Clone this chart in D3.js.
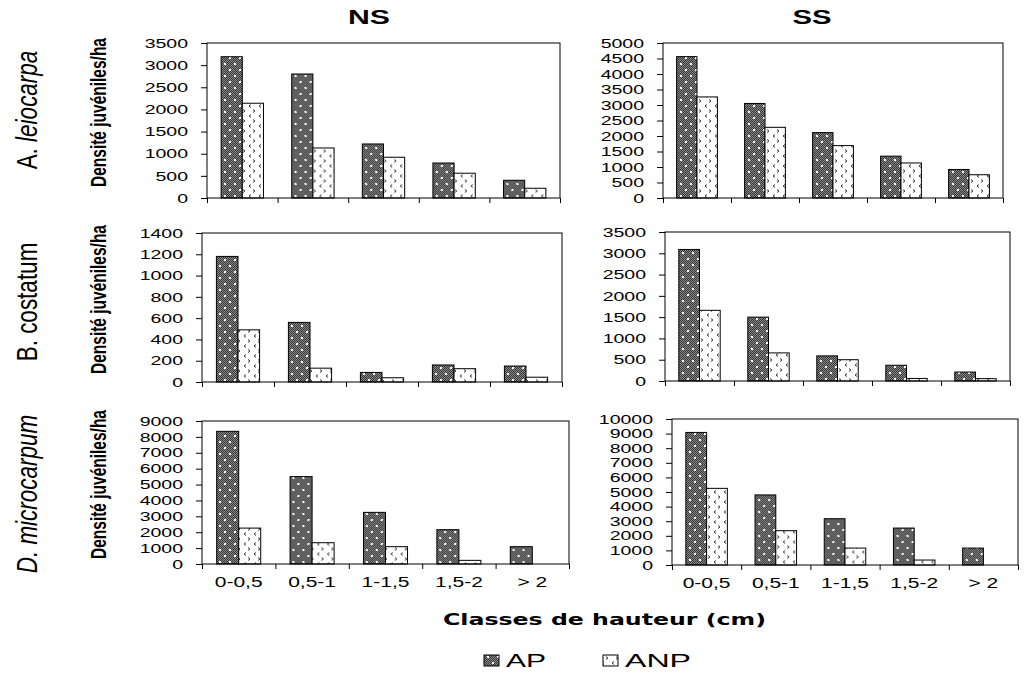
<!DOCTYPE html>
<html>
<head>
<meta charset="utf-8">
<script src="https://cdn.jsdelivr.net/npm/d3@7"></script>
<style>
  body { margin: 0; background: #fff; }
  text { font-family: "Liberation Sans", Arial, sans-serif; fill: #000; }
</style>
</head>
<body>
<div id="chart"></div>
<script>
// classes de hauteur et séries
const categories = ["0-0,5", "0,5-1", "1-1,5", "1,5-2", "> 2"];
const series = ["AP", "ANP"];
const sites = ["NS", "SS"];
const species = ["A. leiocarpa", "B. costatum", "D. microcarpum"];

// densités (juvéniles/ha)
const apLeiocarpaNS  = [3190, 2800, 1220, 790, 400];
const anpLeiocarpaNS = [2140, 1130, 920, 560, 220];
const apLeiocarpaSS  = [4560, 3050, 2110, 1350, 920];
const anpLeiocarpaSS = [3260, 2280, 1690, 1130, 750];

const apCostatumNS  = [1180, 560, 90, 160, 150];
const anpCostatumNS = [490, 130, 40, 125, 45];
const apCostatumSS  = [3090, 1500, 590, 370, 210];
const anpCostatumSS = [1660, 660, 500, 60, 55];

const apMicroNS  = [8350, 5500, 3250, 2160, 1090];
const anpMicroNS = [2260, 1340, 1090, 230, 0];
const apMicroSS  = [9080, 4800, 3170, 2530, 1160];
const anpMicroSS = [5250, 2350, 1160, 340, 0];

// échelles des axes y
const yMaxNS = [3500, 1400, 9000];
const yStepNS = [500, 200, 1000];
const yMaxSS = [5000, 3500, 10000];
const yStepSS = [500, 500, 1000];

const values = [
  [[apLeiocarpaNS, anpLeiocarpaNS], [apLeiocarpaSS, anpLeiocarpaSS]],
  [[apCostatumNS, anpCostatumNS], [apCostatumSS, anpCostatumSS]],
  [[apMicroNS, anpMicroNS], [apMicroSS, anpMicroSS]]
];

// cadres des six graphiques [gauche, haut, droite, bas]
const boxes = [
  [[207, 43, 560, 198], [663, 43, 1003, 198]],
  [[202, 233, 562, 382], [665, 232, 1010, 381]],
  [[202, 421, 569, 564], [672, 419, 1018, 565]]
];

const svg = d3.select("#chart").append("svg")
  .attr("width", 1031)
  .attr("height", 674);

// motifs des barres
const defs = svg.append("defs");
const pAP = defs.append("pattern")
  .attr("id", "patAP").attr("patternUnits", "userSpaceOnUse")
  .attr("width", 10).attr("height", 12);
pAP.append("rect").attr("width", 10).attr("height", 12).attr("fill", "#353535");
for (let i = 0; i < 10; i++) {
  for (let j = 0; j < 12; j++) {
    if ((i + j) % 2 === 0) pAP.append("rect").attr("x", i).attr("y", j)
      .attr("width", 1).attr("height", 1).attr("fill", "#8a8a8a");
  }
}
pAP.append("rect").attr("x", 2).attr("y", 2).attr("width", 2).attr("height", 2).attr("fill", "#fff");
pAP.append("rect").attr("x", 7).attr("y", 8).attr("width", 2).attr("height", 2).attr("fill", "#fff");

const pANP = defs.append("pattern")
  .attr("id", "patANP").attr("patternUnits", "userSpaceOnUse")
  .attr("width", 10).attr("height", 10);
pANP.append("rect").attr("width", 10).attr("height", 10).attr("fill", "#fff");
pANP.append("path").attr("d", "M4,1.5 L2,3 L4,4.5").attr("fill", "none")
  .attr("stroke", "#222").attr("stroke-width", 0.9);
pANP.append("path").attr("d", "M6,6.5 L8,8 L6,9.5").attr("fill", "none")
  .attr("stroke", "#222").attr("stroke-width", 0.9);

const fills = { AP: "url(#patAP)", ANP: "url(#patANP)" };
const sx = 1.5;

species.forEach((sp, r) => {
  sites.forEach((site, c) => {
    const [l, t, rr, b] = boxes[r][c];
    const w = rr - l, h = b - t;
    const max = c === 0 ? yMaxNS[r] : yMaxSS[r];
    const step = c === 0 ? yStepNS[r] : yStepSS[r];

    const g = svg.append("g").attr("transform", "translate(" + l + "," + t + ")");

    const x = d3.scaleBand().domain(categories).range([0, w]).padding(0);
    const x1 = d3.scaleBand().domain(series)
      .range([x.bandwidth() * 0.2, x.bandwidth() * 0.8]).padding(0);
    const y = d3.scaleLinear().domain([0, max]).range([h, 0]);

    // axe y
    const ya = g.append("g")
      .call(d3.axisLeft(y).tickValues(d3.range(0, max + 1, step))
        .tickSize(6).tickFormat(d3.format("d")));
    ya.select(".domain").remove();
    ya.selectAll("line").attr("stroke", "#000");
    ya.selectAll("text")
      .attr("x", -19 / sx)
      .attr("transform", "scale(" + sx + ",1)")
      .style("font-size", "13px");

    // axe x : graduations aux limites des classes
    const xb = d3.scaleLinear().domain([0, categories.length]).range([0, w]);
    const xa = g.append("g").attr("transform", "translate(0," + h + ")")
      .call(d3.axisBottom(xb).ticks(categories.length).tickSize(5).tickFormat(""));
    xa.select(".domain").remove();
    xa.selectAll("line").attr("stroke", "#000");

    // barres
    const rows = categories.map((cat, i) => ({ cat, v: [values[r][c][0][i], values[r][c][1][i]] }));
    const grp = g.selectAll(".cat").data(rows).enter().append("g")
      .attr("transform", d => "translate(" + x(d.cat) + ",0)");
    grp.selectAll("rect")
      .data(d => series.map((s, k) => ({ s, v: d.v[k] })).filter(e => e.v > 0))
      .enter().append("rect")
      .attr("x", d => x1(d.s))
      .attr("y", d => y(d.v))
      .attr("width", x1.bandwidth())
      .attr("height", d => h - y(d.v))
      .attr("fill", d => fills[d.s])
      .attr("stroke", "#000")
      .attr("stroke-width", 1);

    // cadre
    g.append("rect").attr("width", w).attr("height", h)
      .attr("fill", "none").attr("stroke", "#000").attr("stroke-width", 1);

    // étiquettes des classes (dernière ligne)
    if (r === species.length - 1) {
      g.selectAll(".lab").data(categories).enter().append("text")
        .attr("transform", d => "translate(" + (x(d) + x.bandwidth() / 2) + "," + (h + 23) + ") scale(" + sx + ",1)")
        .attr("text-anchor", "middle")
        .style("font-size", "14px")
        .text(d => d);
    }

    // titre de l'axe y (colonne de gauche)
    if (c === 0) {
      svg.append("text")
        .attr("transform", "translate(99," + (t + h / 2 - 8) + ") rotate(-90) scale(1,1.4)")
        .attr("text-anchor", "middle")
        .attr("dominant-baseline", "central")
        .style("font-size", "15.5px")
        .style("font-weight", "bold")
        .text("Densité juvéniles/ha");
    }
  });
});

// titres des colonnes
const titleX = [369, 812];
const titleW = [42, 39];
sites.forEach((s, i) => {
  svg.append("text")
    .attr("x", titleX[i] - titleW[i] / 2).attr("y", 24)
    .attr("textLength", titleW[i]).attr("lengthAdjust", "spacingAndGlyphs")
    .style("font-size", "21px").style("font-weight", "bold")
    .text(s);
});

// noms des espèces
const rowY = [110, 302, 494];
const rowParts = [
  [["A. ", "normal"], ["leiocarpa", "italic"]],
  [["B. costatum", "normal"]],
  [["D. microcarpum", "italic"]]
];
species.forEach((sp, i) => {
  const tx = svg.append("text")
    .attr("transform", "translate(27," + rowY[i] + ") rotate(-90) scale(1,1.3)")
    .attr("text-anchor", "middle")
    .attr("dominant-baseline", "central")
    .style("font-size", "22.5px");
  rowParts[i].forEach(p => tx.append("tspan").style("font-style", p[1]).text(p[0]));
});

// titre de l'axe x
svg.append("text")
  .attr("x", 443).attr("y", 625)
  .attr("textLength", 323).attr("lengthAdjust", "spacingAndGlyphs")
  .style("font-family", "'DejaVu Sans', Verdana, sans-serif")
  .style("font-size", "16px").style("font-weight", "bold")
  .text("Classes de hauteur (cm)");

// légende
const legX = [484, 603];
const legW = [40, 66];
series.forEach((s, i) => {
  svg.append("rect")
    .attr("x", legX[i]).attr("y", 655).attr("width", 15).attr("height", 11)
    .attr("fill", fills[s]).attr("stroke", "#000").attr("stroke-width", 1);
  svg.append("text")
    .attr("x", legX[i] + 22).attr("y", 667)
    .attr("textLength", legW[i]).attr("lengthAdjust", "spacingAndGlyphs")
    .style("font-size", "18px")
    .text(s);
});
</script>
</body>
</html>
